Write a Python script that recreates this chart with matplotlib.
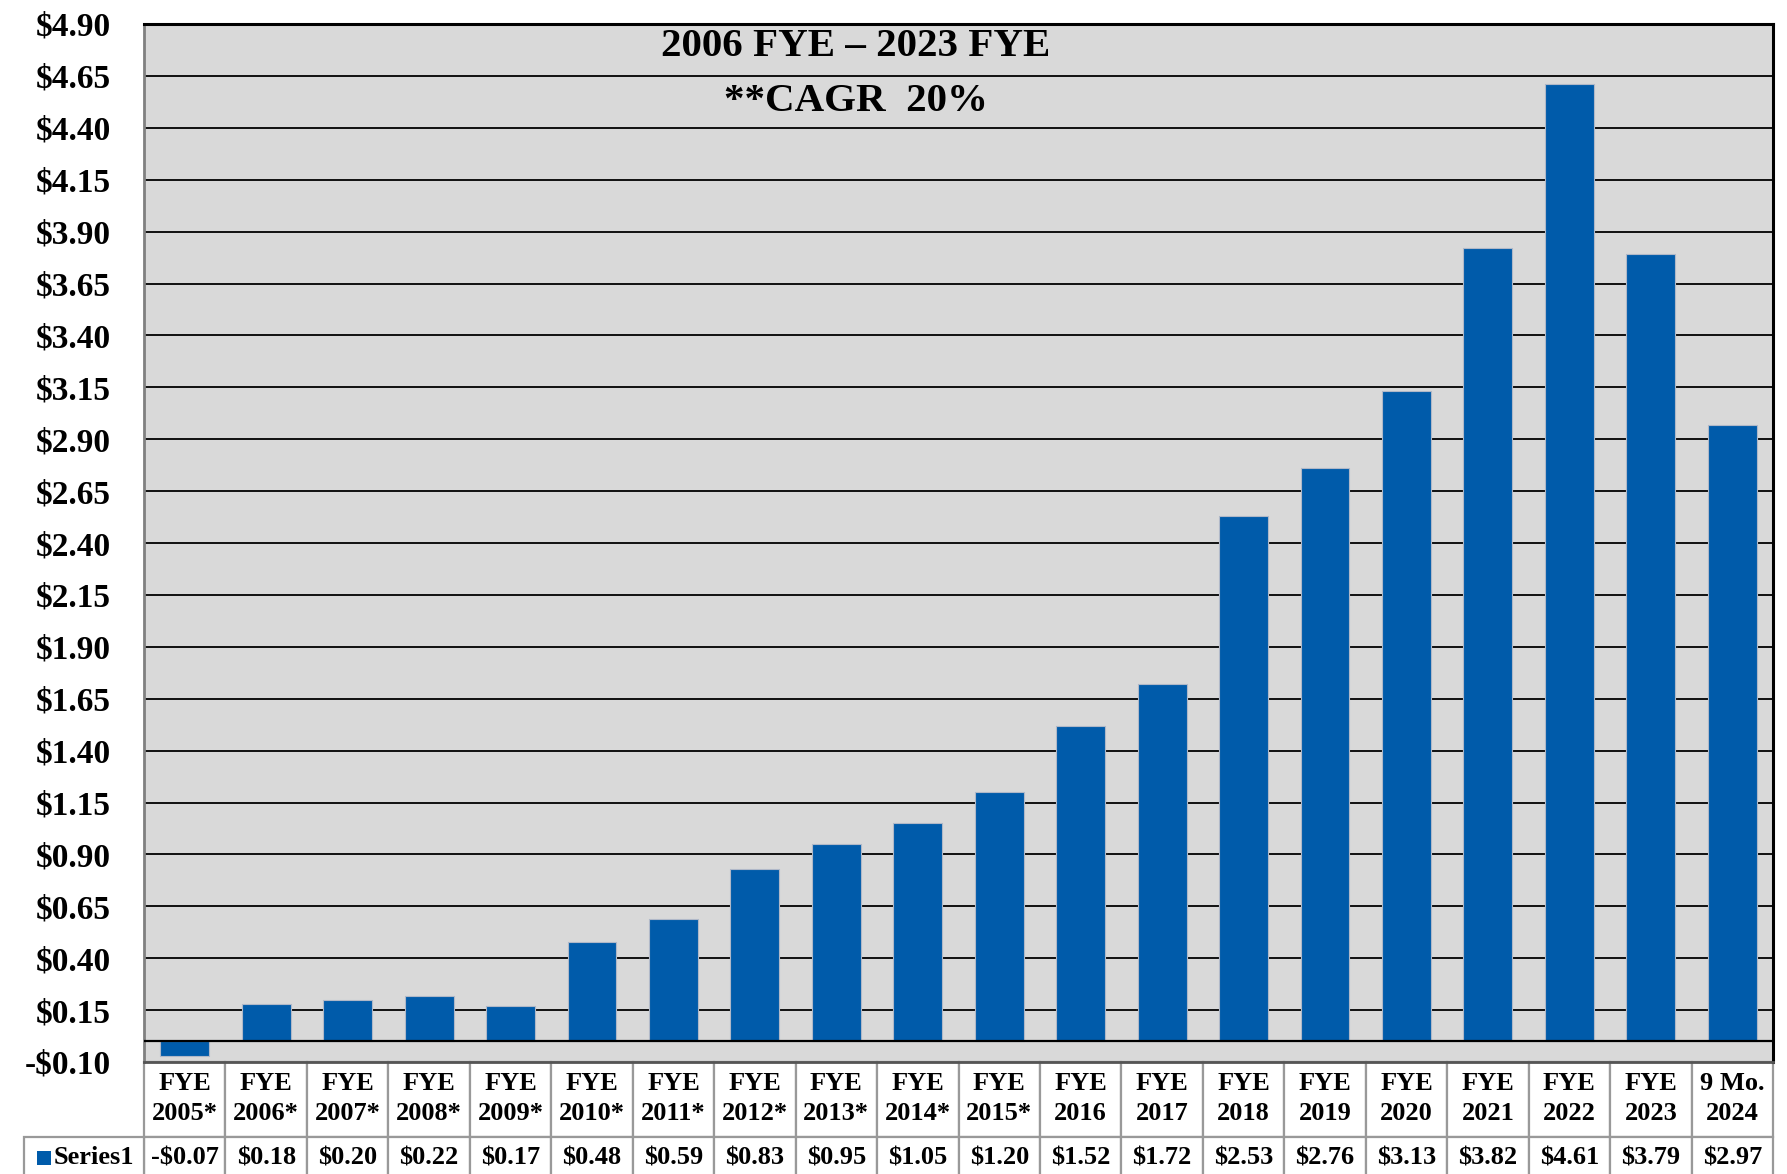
import matplotlib
matplotlib.use("Agg")
import matplotlib.pyplot as plt
from matplotlib.patches import Rectangle
from matplotlib.transforms import blended_transform_factory
import numpy as np

# data
categories = ["FYE\n2005*", "FYE\n2006*", "FYE\n2007*", "FYE\n2008*", "FYE\n2009*",
              "FYE\n2010*", "FYE\n2011*", "FYE\n2012*", "FYE\n2013*", "FYE\n2014*",
              "FYE\n2015*", "FYE\n2016", "FYE\n2017", "FYE\n2018", "FYE\n2019",
              "FYE\n2020", "FYE\n2021", "FYE\n2022", "FYE\n2023", "9 Mo.\n2024"]
values = [-0.07, 0.18, 0.20, 0.22, 0.17, 0.48, 0.59, 0.83, 0.95, 1.05,
          1.20, 1.52, 1.72, 2.53, 2.76, 3.13, 3.82, 4.61, 3.79, 2.97]
series_name = "Series1"
y_ticks = [-0.10, 0.15, 0.40, 0.65, 0.90, 1.15, 1.40, 1.65, 1.90, 2.15, 2.40,
           2.65, 2.90, 3.15, 3.40, 3.65, 3.90, 4.15, 4.40, 4.65, 4.90]
title_lines = ["2006 FYE \u2013 2023 FYE", "**CAGR  20%"]

bar_color = "#005BAA"
plt.rcParams["font.family"] = ["Liberation Serif", "DejaVu Serif"]
plt.rcParams["font.weight"] = "bold"

W, H = 1787, 1174
fig = plt.figure(figsize=(W / 100, H / 100), dpi=100)
left, right, top, bottom = 144, 1773, 24, 1062
ax = fig.add_axes([left / W, (H - bottom) / H, (right - left) / W, (bottom - top) / H])
ax.set_facecolor("#D9D9D9")

x = np.arange(len(values))
ax.bar(x, values, width=0.6, color=bar_color, edgecolor="#B0B8C8", linewidth=0.8, zorder=3)

ax.set_xlim(-0.5, len(values) - 0.5)
ax.set_ylim(y_ticks[0], y_ticks[-1])
ax.set_yticks(y_ticks)
ax.set_yticklabels([f"-${abs(v):.2f}" if v < 0 else f"${v:.2f}" for v in y_ticks],
                   fontsize=24, fontweight="bold")
ax.tick_params(axis="y", length=0, pad=24)
ax.set_xticks([])
for v in y_ticks[1:-1]:
    ax.axhline(v, color="black", lw=1.3, zorder=1)
ax.axhline(0, color="black", lw=1.6, zorder=4)

ax.spines["top"].set_linewidth(2.2)
ax.spines["right"].set_linewidth(2.2)
ax.spines["left"].set_color("#808080")
ax.spines["left"].set_linewidth(2)
ax.spines["bottom"].set_color("#555555")
ax.spines["bottom"].set_linewidth(2)

ax.text(0.437, 0.978, title_lines[0], transform=ax.transAxes, ha="center", va="center",
        fontsize=29.5, fontweight="bold")
ax.text(0.437, 0.925, title_lines[1], transform=ax.transAxes, ha="center", va="center",
        fontsize=29.5, fontweight="bold")

# data table below the plot
ax_h = bottom - top
hdr_h = 75 / ax_h
val_h = 45 / ax_h
edge = "#999999"
trans = blended_transform_factory(ax.transData, ax.transAxes)
for i, (lab, val) in enumerate(zip(categories, values)):
    ax.add_patch(Rectangle((i - 0.5, -hdr_h), 1, hdr_h, transform=trans, facecolor="white",
                           edgecolor=edge, lw=1.6, clip_on=False))
    ax.add_patch(Rectangle((i - 0.5, -hdr_h - val_h), 1, val_h, transform=trans,
                           facecolor="white", edgecolor=edge, lw=1.6, clip_on=False))
    ax.text(i, -hdr_h / 2 + 1 / ax_h, lab, transform=trans, ha="center", va="center",
            fontsize=19, fontweight="bold", linespacing=1.4)
    txt = f"-${abs(val):.2f}" if val < 0 else f"${val:.2f}"
    ax.text(i, -hdr_h - 21 / ax_h, txt, transform=trans, ha="center", va="center",
            fontsize=19, fontweight="bold")

lab_w = 120 / (right - left)
ax.add_patch(Rectangle((-lab_w, -hdr_h - val_h), lab_w, val_h, transform=ax.transAxes,
                       facecolor="white", edgecolor=edge, lw=1.6, clip_on=False))
ax.add_patch(Rectangle((-lab_w + 13 / (right - left), -hdr_h - 28 / ax_h),
                       14 / (right - left), 14 / ax_h, transform=ax.transAxes,
                       facecolor=bar_color, edgecolor="none", clip_on=False))
ax.text(-lab_w + 30 / (right - left), -hdr_h - 21 / ax_h, series_name, transform=ax.transAxes,
        ha="left", va="center", fontsize=19, fontweight="bold")

fig.savefig("out.png", dpi=100)
